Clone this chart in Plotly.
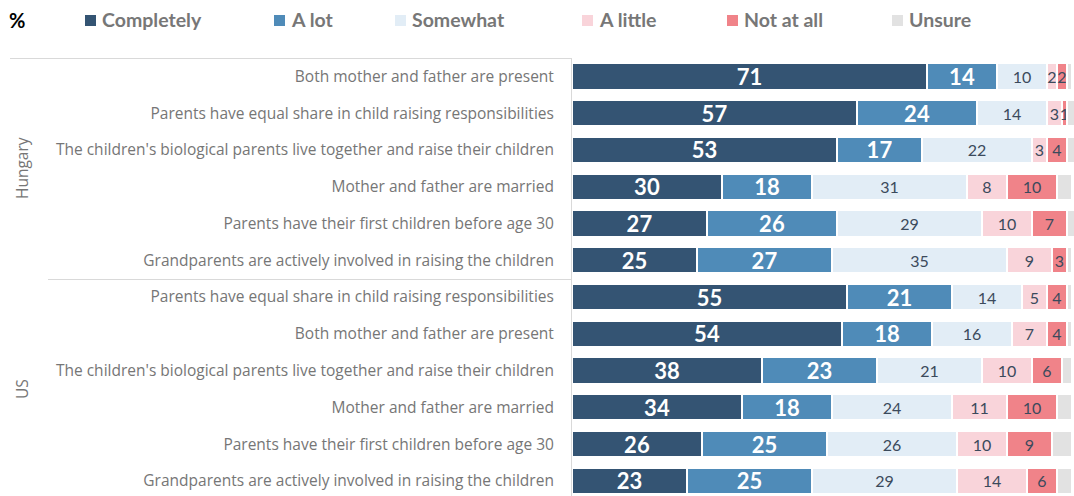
import plotly.graph_objects as go

# Response categories and colours
categories = ["Completely", "A lot", "Somewhat", "A little", "Not at all", "Unsure"]
colors = ["#345473", "#4f8bb8", "#e2edf6", "#f9d4da", "#f08389", "#e2e2e2"]

# Statements, Hungary block first, then US block
groups = ["Hungary", "US"]
hungary_items = [
    "Both mother and father are present",
    "Parents have equal share in child raising responsibilities",
    "The children's biological parents live together and raise their children",
    "Mother and father are married",
    "Parents have their first children before age 30",
    "Grandparents are actively involved in raising the children",
]
us_items = [
    "Parents have equal share in child raising responsibilities",
    "Both mother and father are present",
    "The children's biological parents live together and raise their children",
    "Mother and father are married",
    "Parents have their first children before age 30",
    "Grandparents are actively involved in raising the children",
]

# Percentages per category (Hungary rows then US rows)
completely = [71, 57, 53, 30, 27, 25, 55, 54, 38, 34, 26, 23]
a_lot      = [14, 24, 17, 18, 26, 27, 21, 18, 23, 18, 25, 25]
somewhat   = [10, 14, 22, 31, 29, 35, 14, 16, 21, 24, 26, 29]
a_little   = [2, 3, 3, 8, 10, 9, 5, 7, 10, 11, 10, 14]
not_at_all = [2, 1, 4, 10, 7, 3, 4, 4, 6, 10, 9, 6]
unsure     = [1, 2, 2, 3, 2, 1, 1, 1, 2, 3, 4, 3]

series = [completely, a_lot, somewhat, a_little, not_at_all, unsure]
labels = hungary_items + us_items
rows = list(range(len(labels)))

W, H = 1074, 496
ML, MT = 572, 58
PW, PH = W - ML, H - MT

FONT = "Lato"
LABEL_FONT = "Open Sans"
GREY_TEXT = "#767676"

fig = go.Figure()
for i, (name, vals, col) in enumerate(zip(categories, series, colors)):
    if i < 2:
        txt = [str(v) for v in vals]
        tfont = dict(family=FONT, size=22, color="white", weight="bold")
    elif i < 5:
        txt = [str(v) for v in vals]
        tfont = dict(family=FONT, size=16, color="#3b4a5c")
    else:
        txt = None
        tfont = None
    fig.add_trace(go.Bar(
        name=name, orientation="h", y=rows, x=vals,
        marker=dict(color=col, line=dict(color="white", width=1.5)),
        text=txt, textposition="inside" if txt else "none",
        insidetextanchor="middle", constraintext="none", textangle=0,
        textfont=tfont, showlegend=False, hoverinfo="x+name",
    ))

fig.update_layout(
    width=W, height=H, barmode="stack", bargap=0.3,
    margin=dict(l=ML, r=0, t=MT, b=0, pad=0),
    paper_bgcolor="white", plot_bgcolor="white",
    font=dict(family=FONT),
    xaxis=dict(range=[0, 100.4], showticklabels=False, showgrid=False,
               zeroline=False, fixedrange=True),
    yaxis=dict(tickvals=rows, ticktext=labels, range=[11.41, -0.5],
               showgrid=False, zeroline=False, showline=True,
               linecolor="#d9d9d9", linewidth=1, ticks="",
               ticklabelstandoff=14,
               tickfont=dict(family=LABEL_FONT, size=15.5, color=GREY_TEXT)),
)


def px_x(px):
    return (px - ML) / PW


def px_y(py):
    return 1 + (MT - py) / PH


# group separator lines on the label side
fig.add_shape(type="line", xref="paper", yref="paper",
              x0=px_x(10), x1=px_x(572), y0=px_y(58.5), y1=px_y(58.5),
              line=dict(color="#d9d9d9", width=1))
fig.add_shape(type="line", xref="paper", yref="paper",
              x0=px_x(48), x1=px_x(572), y0=px_y(279.5), y1=px_y(279.5),
              line=dict(color="#d9d9d9", width=1))

# group labels
for g, cy in zip(groups, [168, 389]):
    fig.add_annotation(text=g, xref="paper", yref="paper", x=px_x(22), y=px_y(cy),
                       textangle=-90, showarrow=False, xanchor="center", yanchor="middle",
                       font=dict(family=LABEL_FONT, size=15.5, color=GREY_TEXT))

# legend row
fig.add_annotation(text="<b>%</b>", xref="paper", yref="paper", x=px_x(7), y=px_y(20),
                   xanchor="left", yanchor="middle", showarrow=False,
                   font=dict(family=FONT, size=20, color="black"))
square_x = [85, 274, 395, 582, 727, 892]
for name, col, sx in zip(categories, colors, square_x):
    fig.add_shape(type="rect", xref="paper", yref="paper",
                  x0=px_x(sx), x1=px_x(sx + 11), y0=px_y(15), y1=px_y(26),
                  fillcolor=col, line=dict(width=0))
    fig.add_annotation(text=f"<b>{name}</b>", xref="paper", yref="paper",
                       x=px_x(sx + 15), y=px_y(20), xanchor="left", yanchor="middle",
                       showarrow=False, font=dict(family=FONT, size=19.5, color="#777777"))

fig.write_html("out.html")
